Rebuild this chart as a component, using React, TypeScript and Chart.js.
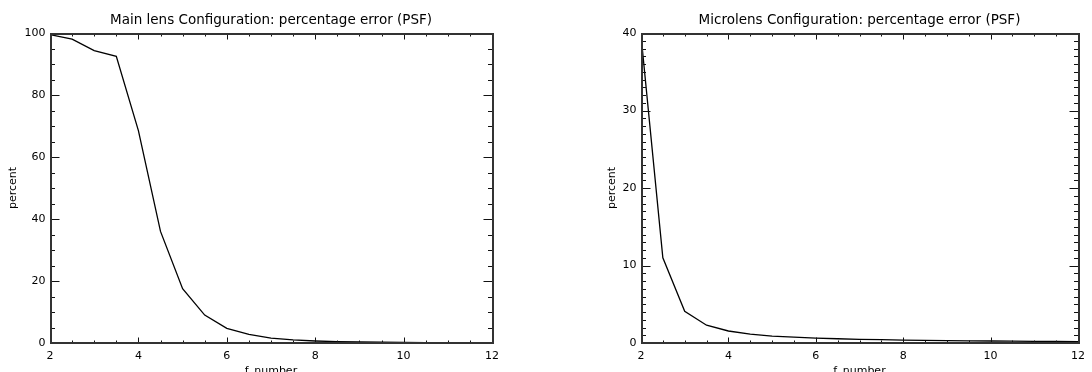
import React, { useEffect, useRef } from "react";
import { Chart, registerables } from "chart.js";

Chart.register(...registerables);
Chart.defaults.font.family = "'DejaVu Sans', sans-serif";
Chart.defaults.color = "#000";

// ---- data ----
const fNumbers = [2, 2.5, 3, 3.5, 4, 4.5, 5, 5.5, 6, 6.5, 7, 7.5, 8, 8.5, 9, 9.5, 10, 10.5, 11, 11.5, 12];
const mainLensError = [99.5, 98.0, 94.3, 92.5, 68.5, 36.0, 17.5, 9.0, 4.7, 2.8, 1.6, 1.0, 0.65, 0.45, 0.32, 0.24, 0.18, 0.14, 0.11, 0.09, 0.07];
const microlensError = [39.7, 11.0, 4.1, 2.3, 1.55, 1.15, 0.9, 0.75, 0.63, 0.55, 0.48, 0.43, 0.38, 0.34, 0.31, 0.28, 0.26, 0.24, 0.22, 0.2, 0.19];
const xTickValues = [2, 4, 6, 8, 10, 12];
const mainYTicks = [0, 20, 40, 60, 80, 100];
const microYTicks = [0, 10, 20, 30, 40];
const mainTitle = "Main lens Configuration: percentage error (PSF)";
const microTitle = "Microlens Configuration: percentage error (PSF)";
const xTitle = "f_number";
const yTitle = "percent";

// IDL-style frame: box on four sides with inward major/minor ticks
const idlFrame = {
  id: "idlFrame",
  afterDatasetsDraw(chart: any, _args: any, opts: any) {
    const { ctx, chartArea: a } = chart;
    const xs = chart.scales.x;
    const ys = chart.scales.y;
    const isMajor = (scale: any, v: number) => scale.ticks.some((t: any) => Math.abs(t.value - v) < 1e-6);
    ctx.save();
    // ticks
    const L = Math.round(a.left) + 0.5;
    const R = Math.round(a.right) + 0.5;
    const T = Math.round(a.top) + 0.5;
    const B = Math.round(a.bottom) + 0.5;
    ctx.strokeStyle = "#111";
    ctx.lineWidth = 1;
    ctx.beginPath();
    const nx = Math.round((xs.max - xs.min) / opts.xMinor);
    for (let i = 0; i <= nx; i++) {
      const v = xs.min + i * opts.xMinor;
      const p = Math.round(xs.getPixelForValue(v)) + 0.5;
      const len = isMajor(xs, v) ? opts.xMajorLen : opts.xMinorLen;
      ctx.moveTo(p, B);
      ctx.lineTo(p, B - len);
      ctx.moveTo(p, T);
      ctx.lineTo(p, T + len);
    }
    const ny = Math.round((ys.max - ys.min) / opts.yMinor);
    for (let i = 0; i <= ny; i++) {
      const v = ys.min + i * opts.yMinor;
      const p = Math.round(ys.getPixelForValue(v)) + 0.5;
      const len = isMajor(ys, v) ? opts.yMajorLen : opts.yMinorLen;
      ctx.moveTo(L, p);
      ctx.lineTo(L + len, p);
      ctx.moveTo(R, p);
      ctx.lineTo(R - len, p);
    }
    ctx.stroke();
    // box
    ctx.strokeStyle = "#333";
    ctx.lineWidth = 2;
    ctx.beginPath();
    const bl = Math.round(a.left) + 1;
    const br = Math.round(a.right) + 1;
    const bt = Math.round(a.top) + 1;
    const bb = Math.round(a.bottom);
    ctx.rect(bl, bt, br - bl, bb - bt);
    ctx.stroke();
    ctx.restore();
  },
};

type PlotProps = {
  values: number[];
  yTicks: number[];
  yMinor: number;
  title: string;
  yAxisWidth: number;
  padRight: number;
  yTitlePad: number;
};

function IdlPlot({ values, yTicks, yMinor, title, yAxisWidth, padRight, yTitlePad }: PlotProps) {
  const ref = useRef<HTMLCanvasElement>(null);
  useEffect(() => {
    const chart = new Chart(ref.current as HTMLCanvasElement, {
      type: "line",
      data: {
        datasets: [
          {
            data: fNumbers.map((f, i) => ({ x: f, y: values[i] })),
            borderColor: "#000",
            borderWidth: 1.3,
            pointRadius: 0,
            tension: 0,
            fill: false,
          },
        ],
      },
      options: {
        responsive: false,
        animation: false,
        layout: { padding: { left: 0, right: padRight, top: 0, bottom: 0 } },
        plugins: {
          legend: { display: false },
          tooltip: { enabled: false },
          title: { display: false },
          idlFrame: { xMinor: 0.5, yMinor, xMajorLen: 6, xMinorLen: 3, yMajorLen: 9, yMinorLen: 4.5 },
        } as any,
        scales: {
          x: {
            type: "linear",
            position: "bottom",
            min: 2,
            max: 12,
            afterBuildTicks: (s: any) => {
              s.ticks = xTickValues.map((v) => ({ value: v }));
            },
            afterFit: (s: any) => {
              s.height = 29;
            },
            grid: { display: false, drawTicks: false },
            border: { display: false },
            ticks: { padding: 7, font: { size: 11 }, color: "#000", maxRotation: 0, autoSkip: false },
            title: { display: true, text: xTitle, font: { size: 11 }, color: "#000", padding: { top: 0, bottom: -6 } },
          },
          xTop: {
            type: "linear",
            position: "top",
            min: 2,
            max: 12,
            display: true,
            grid: { display: false, drawTicks: false },
            border: { display: false },
            ticks: { display: false },
            afterFit: (s: any) => {
              s.height = 33;
            },
            title: { display: true, text: title, font: { size: 13.5 }, color: "#000", padding: { top: 12, bottom: 0 } },
          },
          y: {
            type: "linear",
            position: "left",
            min: yTicks[0],
            max: yTicks[yTicks.length - 1],
            afterBuildTicks: (s: any) => {
              s.ticks = yTicks.map((v) => ({ value: v }));
            },
            afterFit: (s: any) => {
              s.width = yAxisWidth;
            },
            grid: { display: false, drawTicks: false },
            border: { display: false },
            ticks: { padding: 4.5, font: { size: 11 }, color: "#000", autoSkip: false },
            title: { display: true, text: yTitle, font: { size: 11 }, color: "#000", padding: { top: yTitlePad, bottom: 0 } },
          },
        } as any,
      },
      plugins: [idlFrame],
    });
    return () => chart.destroy();
  }, []);
  return <canvas ref={ref} width={546} height={372} style={{ display: "block" }} />;
}

export default function App() {
  return (
    <div style={{ position: "absolute", left: 0, top: 0, width: 1092, height: 372, background: "#fff", overflow: "hidden" }}>
      <div style={{ position: "absolute", left: 0, top: 0, width: 546, height: 372 }}>
        <IdlPlot values={mainLensError} yTicks={mainYTicks} yMinor={5} title={mainTitle} yAxisWidth={50} padRight={54} yTitlePad={6.7} />
      </div>
      <div style={{ position: "absolute", left: 546, top: 0, width: 546, height: 372 }}>
        <IdlPlot values={microlensError} yTicks={microYTicks} yMinor={1} title={microTitle} yAxisWidth={95} padRight={8} yTitlePad={60} />
      </div>
    </div>
  );
}
